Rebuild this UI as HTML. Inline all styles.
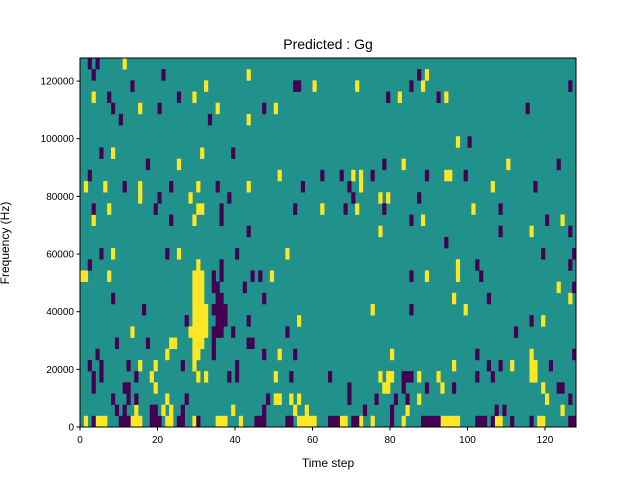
<!DOCTYPE html>
<html><head><meta charset="utf-8"><style>
html,body{margin:0;padding:0;background:#fff;}
svg{display:block;font-family:"Liberation Sans","DejaVu Sans",sans-serif;}
</style></head><body>
<svg id="chart" width="640" height="480" viewBox="0 0 640 480">
<rect x="0" y="0" width="640" height="480" fill="#fff"/>
<text x="328" y="49" font-size="14" text-anchor="middle">Predicted : Gg</text>
<g id="cells"></g>
<g id="axes"></g>
<text x="328" y="467" font-size="12" text-anchor="middle">Time step</text>
<text x="0" y="0" font-size="12" text-anchor="middle" transform="translate(9,243) rotate(-90)">Frequency (Hz)</text>
</svg>
<script>
const nSteps = 128;
const nBins = 33;
const freqMax = 128000;
const xTicks = [0,20,40,60,80,100,120];
const yTicks = [0,20000,40000,60000,80000,100000,120000];
// rows listed from highest frequency bin (index 0 = bin 32) downward
const yellowRows = [
[11],[43,89],[32,60,71,88],[3,29,82,94],[15,35,50],[43],[],[97],[8,31],[25,83,110],
[51,70,72,94,95],[1,6,15,30,43,72,106],[15,28,77,79],[7,30,31,62,71,101],[3,29,88,124],[77,116],[],
[8,25,53],[30,97],[0,1,7,29,30,31,49,89,97],[29,30,31,123],[29,30,31,96,126],[29,30,31,32,75,99],
[29,30,31,32,56,119],[13,28,29,30,31,32],[23,24,29,30,31],[22,29,30,51,80,116],[15,19,29,96,111,116,117],
[18,30,32,50,77,79,80,87,92,116,117],[19,78,79,93,119],[22,50,51,54,56,87,120],[14,21,23,39,55,58,84,124],
[1,4,5,6,13,14,15,22,23,29,35,36,37,41,56,57,58,59,60,67,68,72,75,83,93,94,95,96,97,107,108,118,119]
];
const purpleRows = [
[2,4],[3,21,87],[13,55,56,85,126],[7,25,79,92],[8,20,47,115],[10,33],[],[100],[5,39],[17,78,123],
[2,62,67,75,89,99],[11,23,35,57,69,117],[20,38,70,87],[3,19,36,55,68,78,108],[23,36,85,120],[43,108,126],[94],
[5,22,40,119,127],[2,36,102,126],[34,36,44,46,85,103],[34,35,42,127],[8,35,36,47,105],[16,34,35,36,37,85],
[27,35,36,37,43,116],[34,35,36,39,53,112],[9,17,34,43,44],[4,34,47,55,102,127],[2,5,12,26,40,105,108,121],
[3,5,14,38,40,54,64,83,84,85,102,106],[3,11,12,69,83,89,96,123,124],[8,12,14,27,48,69,76,81,84,126],
[9,11,18,19,26,47,73,80,107,109],
[3,10,11,12,18,19,20,25,26,30,45,46,47,53,54,64,65,66,70,71,80,88,89,90,91,92,102,103,104,106,111,116,126,127]
];
const NS='http://www.w3.org/2000/svg';
const L=80,R=576,T=58,B=427;
const xs=v=>L+(v/nSteps)*(R-L);
const ys=f=>B-(f/freqMax)*(B-T);
const binH=(B-T)/nBins;
const cells=document.getElementById('cells');
function mk(tag,attrs,parent){const e=document.createElementNS(NS,tag);for(const k in attrs)e.setAttribute(k,attrs[k]);parent.appendChild(e);return e;}
const bg=mk('rect',{x:L,y:T,width:R-L,height:B-T,fill:'#21918c'},cells);


function drawRows(rows,color,name){
  rows.forEach((cols,i)=>{
    const bin=nBins-1-i;
    const y0=B-(bin+1)*binH;
    cols.forEach(c=>{
      const r=mk('rect',{x:xs(c),y:y0,width:xs(c+1)-xs(c)+0.3,height:binH+0.3,fill:color},cells);
      
      
    });
  });
}
drawRows(yellowRows,'#fde725','cell-high');
drawRows(purpleRows,'#440154','cell-low');
const axes=document.getElementById('axes');
const frame=mk('rect',{x:L,y:T,width:R-L,height:B-T,fill:'none',stroke:'#000','stroke-width':1},axes);


xTicks.forEach(v=>{
  const x=xs(v);
  const t=mk('line',{x1:x,y1:B,x2:x,y2:B+3.5,stroke:'#000'},axes);
  
  
  const tx=mk('text',{x:x,y:B+16,'font-size':10,'text-anchor':'middle'},axes);
  tx.textContent=v;
  
  
});
yTicks.forEach(v=>{
  const y=ys(v);
  const t=mk('line',{x1:L-3.5,y1:y,x2:L,y2:y,stroke:'#000'},axes);
  
  
  const tx=mk('text',{x:L-6,y:y+3.5,'font-size':10,'text-anchor':'end'},axes);
  tx.textContent=v;
  
  
});
</script>
</body></html>
